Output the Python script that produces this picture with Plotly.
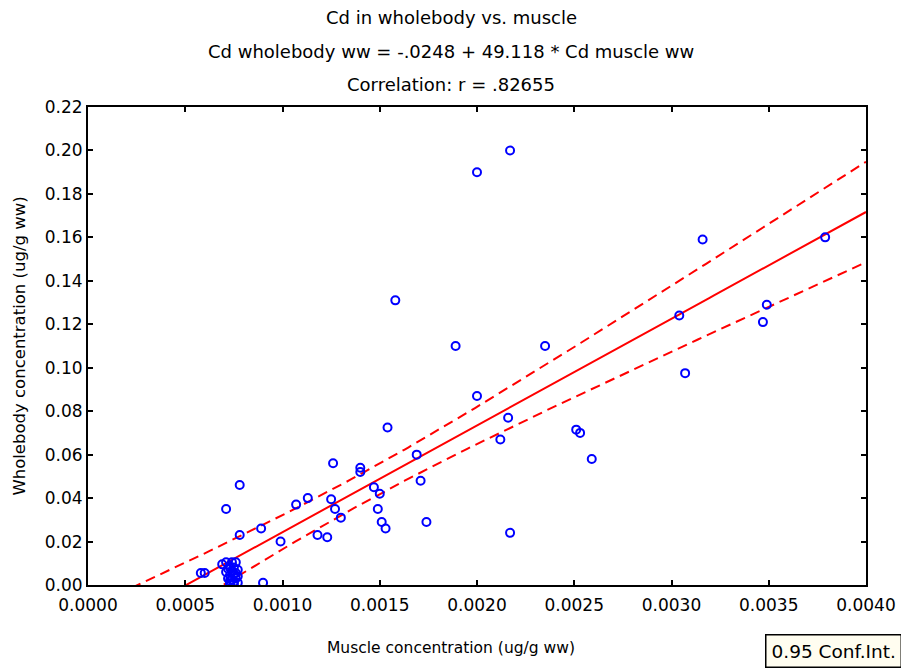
import numpy as np
import plotly.graph_objects as go

# Cd concentration in muscle (x) and whole body (y), ug/g wet weight
muscle_cd = [
    0.00200, 0.00217, 0.00158, 0.00189, 0.00235, 0.00316, 0.00379, 0.00304,
    0.00307, 0.00347, 0.00349, 0.00200, 0.00216, 0.00212, 0.00251, 0.00253,
    0.00259, 0.00217, 0.00154, 0.00169, 0.00171, 0.00174, 0.00126, 0.00140,
    0.00140, 0.00147, 0.00150, 0.00149, 0.00151, 0.00153, 0.00125, 0.00127,
    0.00130, 0.00118, 0.00123, 0.00113, 0.00107, 0.00099, 0.00089, 0.00078,
    0.00078, 0.00071, 0.00090, 0.00058, 0.00060,
    0.00069, 0.00071, 0.00073, 0.00074, 0.00076, 0.00075, 0.00071, 0.00073,
    0.00075, 0.00077, 0.00072, 0.00074, 0.00076, 0.00077, 0.00073, 0.00075,
    0.00072, 0.00074, 0.00076, 0.00073, 0.00075, 0.00077,
]
wholebody_cd = [
    0.190, 0.200, 0.131, 0.110, 0.110, 0.159, 0.160, 0.124,
    0.0975, 0.121, 0.129, 0.087, 0.077, 0.067, 0.0715, 0.070,
    0.058, 0.024, 0.0725, 0.060, 0.048, 0.029, 0.056, 0.054,
    0.052, 0.045, 0.042, 0.035, 0.029, 0.026, 0.0395, 0.035,
    0.031, 0.023, 0.022, 0.040, 0.037, 0.020, 0.026, 0.046,
    0.023, 0.035, 0.001, 0.0055, 0.0055,
    0.0095, 0.0105, 0.008, 0.0105, 0.0105, 0.008, 0.006, 0.0045,
    0.005, 0.007, 0.003, 0.0025, 0.003, 0.001, 0.0005, 0.0005,
    0.0075, 0.0065, 0.0055, 0.002, 0.0015, 0.004,
]

# Fitted regression stated in the subtitle
intercept = -0.0248
slope = 49.118
r_value = 0.82655
t_crit = 2.0  # two-sided 95 %, df = n - 2

x_ticks = [0.0000, 0.0005, 0.0010, 0.0015, 0.0020, 0.0025, 0.0030, 0.0035, 0.0040]
y_ticks = [0.00, 0.02, 0.04, 0.06, 0.08, 0.10, 0.12, 0.14, 0.16, 0.18, 0.20, 0.22]

xs = np.asarray(muscle_cd)
ys = np.asarray(wholebody_cd)
n = len(xs)
resid = ys - (intercept + slope * xs)
s_err = np.sqrt(np.sum(resid ** 2) / (n - 2))
x_mean = xs.mean()
sxx = np.sum((xs - x_mean) ** 2)

grid = np.linspace(x_ticks[0], x_ticks[-1], 200)
fit = intercept + slope * grid
half = t_crit * s_err * np.sqrt(1.0 / n + (grid - x_mean) ** 2 / sxx)

RED = "#FF0000"
BLUE = "#0000FF"
FONT = "DejaVu Sans, Verdana, sans-serif"

fig = go.Figure()
for band in (fit + half, fit - half):
    fig.add_trace(go.Scatter(x=grid, y=band, mode="lines",
                             line=dict(color=RED, width=2, dash="10px,6px"),
                             hoverinfo="skip", showlegend=False))
fig.add_trace(go.Scatter(x=grid, y=fit, mode="lines",
                         line=dict(color=RED, width=2),
                         hoverinfo="skip", showlegend=False))
fig.add_trace(go.Scatter(x=muscle_cd, y=wholebody_cd, mode="markers",
                         marker=dict(symbol="circle-open", size=8, color=BLUE,
                                     line=dict(color=BLUE, width=2)),
                         showlegend=False))

title_lines = [
    "Cd in wholebody vs. muscle",
    f"Cd wholebody ww = {intercept:.4f} + {slope:.3f} * Cd muscle ww".replace("-0.", "-."),
    f"Correlation: r = {r_value:.5f}".replace("0.", ".", 1),
]
for text, yp in zip(title_lines, [1.188, 1.117, 1.048]):
    fig.add_annotation(text=text, x=0.467, y=yp, xref="paper", yref="paper",
                       xanchor="center", yanchor="middle", showarrow=False,
                       font=dict(family=FONT, size=18, color="black"))

# x-axis caption, centred on the page
fig.add_annotation(text="Muscle concentration (ug/g ww)", x=0.466, y=-0.132,
                   xref="paper", yref="paper", xanchor="center", yanchor="middle",
                   showarrow=False, font=dict(family=FONT, size=15.5, color="black"))

fig.add_annotation(text="0.95 Conf.Int.", x=0.870, y=-0.103, xref="paper", yref="paper",
                   xanchor="left", yanchor="top", showarrow=False,
                   bgcolor="#FFFDF0", bordercolor="black", borderwidth=1.5, borderpad=5,
                   font=dict(family=FONT, size=18.5, color="black"))

axis_common = dict(showgrid=False, zeroline=False, showline=True, linecolor="black",
                   linewidth=2, mirror="ticks", ticks="inside", ticklen=5,
                   tickcolor="black", tickwidth=1.5, automargin=False,
                   tickfont=dict(family=FONT, size=17, color="black"))

fig.update_layout(
    width=901, height=668,
    margin=dict(l=88, r=35, t=107, b=83),
    paper_bgcolor="white", plot_bgcolor="white",
    xaxis=dict(range=[x_ticks[0], x_ticks[-1]], tickvals=x_ticks,
               ticktext=[f"{v:.4f}" for v in x_ticks], ticklabelstandoff=4,
               **axis_common),
    yaxis=dict(range=[y_ticks[0], y_ticks[-1]], tickvals=y_ticks,
               ticktext=[f"{v:.2f}" for v in y_ticks],
               title=dict(text="Wholebody concentration (ug/g ww)", standoff=15,
                          font=dict(family=FONT, size=16.5, color="black")),
               **axis_common),
)

fig.write_html("out.html")
